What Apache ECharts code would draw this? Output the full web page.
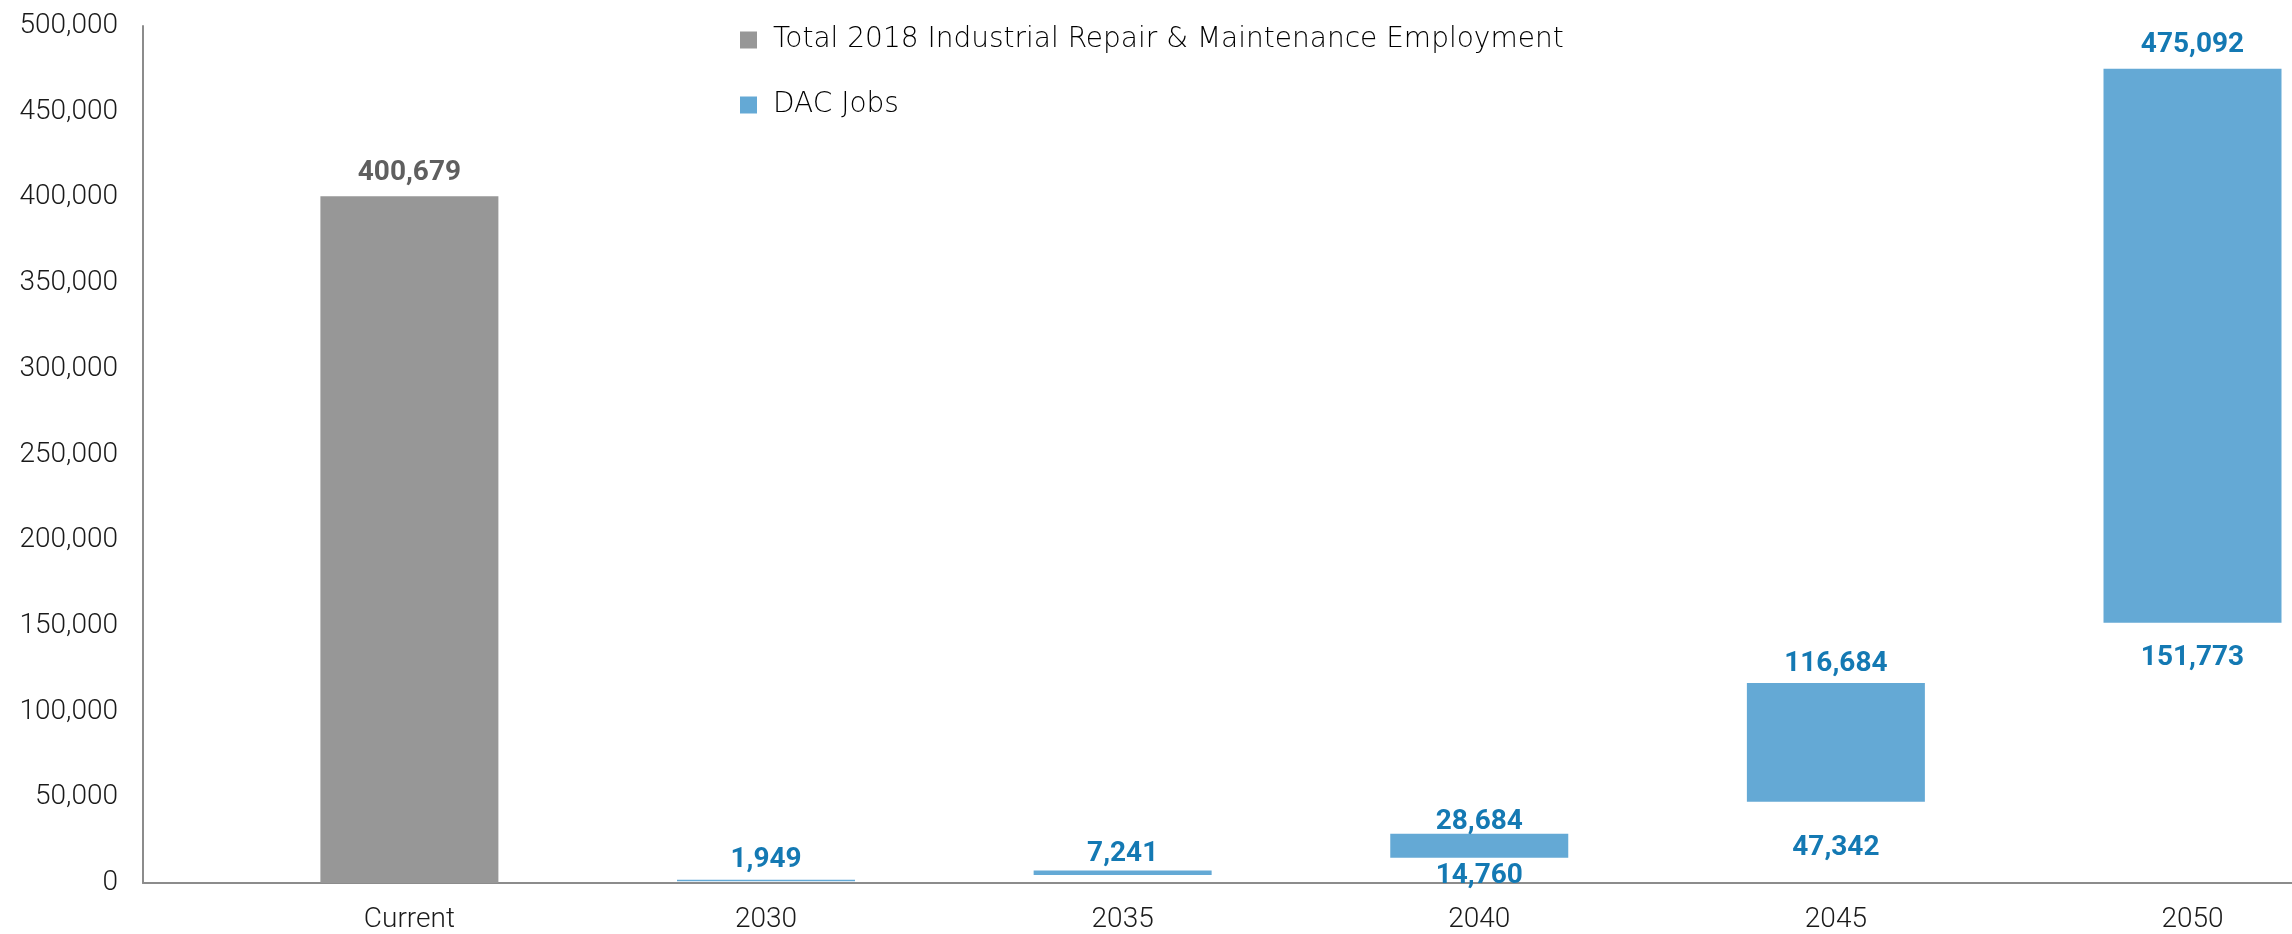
<!DOCTYPE html>
<html>
<head>
<meta charset="utf-8">
<script src="https://cdn.jsdelivr.net/npm/echarts@6/dist/echarts.min.js"></script>
<style>
  html, body { margin: 0; padding: 0; background: #fff; }
  #chart { width: 2292px; height: 934px; }
</style>
</head>
<body>
<div id="chart"></div>
<script>
// Categories on the x axis
const categories = ['Current', '2030', '2035', '2040', '2045', '2050'];
// Total 2018 industrial repair & maintenance employment (only for "Current")
const totalEmployment = [400679, null, null, null, null, null];
// DAC jobs range: low and high estimates per year
const dacLow = [null, 1000, 4700, 14760, 47342, 151773];
const dacHigh = [null, 1949, 7241, 28684, 116684, 475092];
// Which low estimates carry a label
const showLowLabel = [false, false, false, true, true, true];
// Per-bar spacing between label and bar edge
const highLabelGap = [0, 6, 3, -2, 5, 10];
const lowLabelGap = [0, 0, 0, 4, 32, 21];

const fmt = v => Number(v).toLocaleString('en-US');
const FONT = 'Roboto, "Noto Sans", sans-serif';
const GRAY = '#979797';
const BLUE = '#64a9d5';
const BLUE_TEXT = '#1479b3';
const AXIS = '#8c8c8c';

// Category positions along a numeric x axis (one unit per category)
const xIndex = categories.map((c, i) => i);

// Each point is stored as [value, position] so stacking runs on the value
const totalData = totalEmployment.map((v, i) => [v == null ? '-' : v, xIndex[i]]);
const baseData = dacLow.map((v, i) => {
  if (v == null) return ['-', xIndex[i]];
  return {
    value: [v, xIndex[i]],
    label: showLowLabel[i]
      ? { show: true, distance: lowLabelGap[i] }
      : { show: false }
  };
});
const rangeData = dacHigh.map((v, i) => {
  if (v == null) return ['-', xIndex[i]];
  return { value: [v - dacLow[i], xIndex[i]], label: { distance: highLabelGap[i] } };
});

const valueLabel = color => ({
  fontFamily: FONT,
  fontSize: 28,
  lineHeight: 28,
  fontWeight: 'bold',
  color: color
});

const barCommon = {
  type: 'bar',
  stack: 'jobs',
  barWidth: 178,
  encode: { x: 1, y: 0 }
};

const chart = echarts.init(document.getElementById('chart'), null, { renderer: 'canvas' });
chart.setOption({
  backgroundColor: '#fff',
  animation: false,
  legend: {
    data: ['Total 2018 Industrial Repair & Maintenance Employment', 'DAC Jobs'],
    orient: 'vertical',
    left: 735,
    top: 21,
    itemWidth: 17,
    itemHeight: 17,
    itemGap: 37,
    icon: 'rect',
    selectedMode: false,
    textStyle: {
      fontFamily: '"DejaVu Sans", "Open Sans", sans-serif',
      fontSize: 28,
      lineHeight: 28,
      fontWeight: 200,
      color: '#000',
      padding: [0, 0, 0, 11]
    }
  },
  grid: { left: 143, top: 26, right: 0, bottom: 47, containLabel: false },
  xAxis: {
    type: 'value',
    min: -0.747,
    max: 5.279,
    splitLine: { show: false },
    axisLine: { show: true, onZero: false, lineStyle: { color: AXIS, width: 2 } },
    axisTick: { show: false },
    axisLabel: {
      customValues: xIndex,
      margin: 23,
      fontFamily: FONT,
      fontSize: 28,
      fontWeight: 300,
      color: '#1a1a1a',
      formatter: v => categories[Math.round(v)] || ''
    }
  },
  yAxis: {
    type: 'value',
    min: 0,
    max: 500000,
    interval: 50000,
    axisLine: { show: true, onZero: false, lineStyle: { color: AXIS, width: 2 } },
    axisTick: { show: false },
    splitLine: { show: false },
    axisLabel: {
      margin: 25,
      fontFamily: FONT,
      fontSize: 28,
      fontWeight: 300,
      color: '#1a1a1a',
      formatter: v => fmt(v)
    }
  },
  series: [
    Object.assign({}, barCommon, {
      name: 'Total 2018 Industrial Repair & Maintenance Employment',
      data: totalData,
      itemStyle: { color: GRAY },
      label: Object.assign({
        show: true,
        position: 'top',
        distance: 9,
        formatter: p => fmt(totalEmployment[p.dataIndex])
      }, valueLabel('#5f5f5f'))
    }),
    Object.assign({}, barCommon, {
      name: 'dacBase',
      silent: true,
      data: baseData,
      itemStyle: { color: 'rgba(0,0,0,0)' },
      label: Object.assign({
        position: 'insideTop',
        formatter: p => fmt(dacLow[p.dataIndex])
      }, valueLabel(BLUE_TEXT))
    }),
    Object.assign({}, barCommon, {
      name: 'DAC Jobs',
      data: rangeData,
      itemStyle: { color: BLUE },
      label: Object.assign({
        show: true,
        position: 'top',
        formatter: p => fmt(dacHigh[p.dataIndex])
      }, valueLabel(BLUE_TEXT))
    })
  ]
});
</script>
</body>
</html>
